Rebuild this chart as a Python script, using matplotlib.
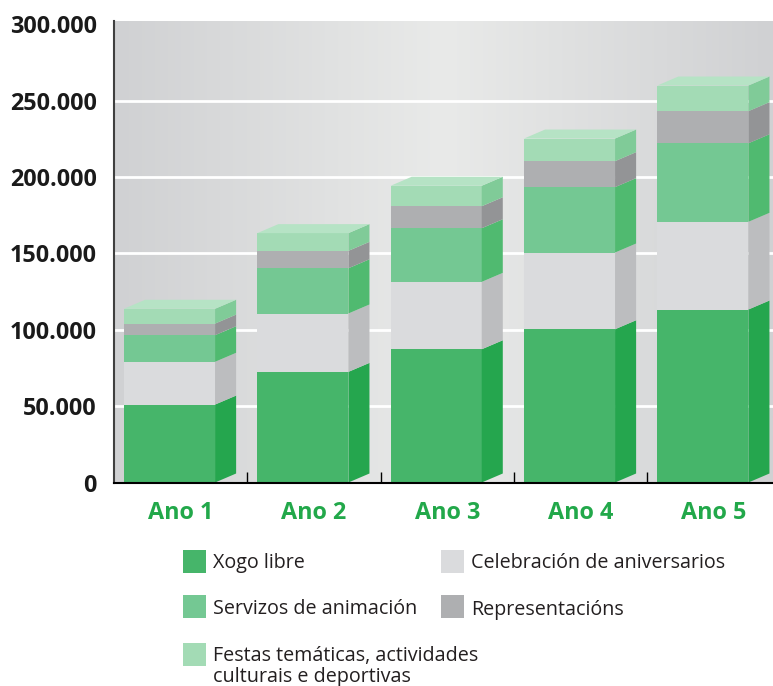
import numpy as np
import matplotlib
matplotlib.use('Agg')
import matplotlib.pyplot as plt
from matplotlib.patches import Polygon, Rectangle
from matplotlib.colors import LinearSegmentedColormap
from matplotlib.ticker import FuncFormatter

plt.rcParams['font.family'] = ['Open Sans', 'DejaVu Sans']

# Ingresos estimados por servizo e ano
years = ['Ano 1', 'Ano 2', 'Ano 3', 'Ano 4', 'Ano 5']
xogo_libre = [51000, 72400, 87200, 100300, 113200]
celebracion = [28000, 38200, 44100, 50200, 57400]
servizos = [17400, 29600, 35100, 42800, 51400]
representacions = [7600, 11400, 14400, 17000, 21000]
festas = [9700, 11600, 13400, 14800, 16800]

labels = ['Xogo libre', 'Celebración de aniversarios', 'Servizos de animación',
          'Representacións', 'Festas temáticas, actividades\nculturais e deportivas']
yticks = [0, 50000, 100000, 150000, 200000, 250000, 300000]

# (values, front colour, side colour) from bottom to top of the stack
stack = [
    (xogo_libre, '#46b56a', '#25a64e'),
    (celebracion, '#dadbdd', '#bcbdbf'),
    (servizos, '#74c893', '#50ba70'),
    (representacions, '#aeafb1', '#939496'),
    (festas, '#a3dbb5', '#80cb98'),
]
top_colour = '#b6e3c5'

W, H = 773, 686
fig = plt.figure(figsize=(W / 100, H / 100), dpi=100)
ax = fig.add_axes([114 / W, (H - 482.5) / H, 659 / W, (482.5 - 21) / H])

xmin, xmax = -0.5, -0.5 + 659 / 133.33
ymax = 300000 * (482.5 - 21) / (6 * 76.4)

# grey backdrop, lighter in the middle
grad = LinearSegmentedColormap.from_list('wall', ['#d0d1d3', '#e9eae9', '#d0d1d3'])
ax.imshow(np.linspace(0, 1, 256).reshape(1, -1), cmap=grad, aspect='auto',
          extent=[xmin, xmax, 0, ymax], zorder=-2)
for t in yticks[1:-1]:
    ax.axhline(t, color='white', lw=2, zorder=-1)

front_w = 0.683
offset = -0.425
dx = 0.158
dy = 9 / 76.4 * 50000

x = np.arange(len(years))
bottom = np.zeros(len(years))
for k, (vals, fc, sc) in enumerate(stack):
    vals = np.array(vals, dtype=float)
    ax.bar(x + offset, vals, front_w, bottom=bottom, align='edge', color=fc,
           linewidth=0, zorder=2)
    for i in range(len(years)):
        xr = x[i] + offset + front_w
        y0, y1 = bottom[i], bottom[i] + vals[i]
        ax.add_patch(Polygon([(xr, y0), (xr + dx, y0 + dy), (xr + dx, y1 + dy), (xr, y1)],
                             closed=True, facecolor=sc, edgecolor='none', zorder=2))
        if k == len(stack) - 1:
            xl = x[i] + offset
            ax.add_patch(Polygon([(xl, y1), (xl + dx, y1 + dy), (xr + dx, y1 + dy), (xr, y1)],
                                 closed=True, facecolor=top_colour, edgecolor='none', zorder=2))
    bottom += vals

ax.set_xlim(xmin, xmax)
ax.set_ylim(0, ymax)

ax.set_yticks(yticks)
ax.yaxis.set_major_formatter(FuncFormatter(lambda v, p: '{:,.0f}'.format(v).replace(',', '.')))
ax.tick_params(axis='y', length=0, pad=12.5, labelsize=16.8, labelcolor='#1a1a1a')
for t in ax.get_yticklabels():
    t.set_fontweight('bold')

ax.set_xticks(x)
ax.set_xticklabels(years, fontweight='bold')
ax.tick_params(axis='x', which='major', length=0, pad=13, labelsize=16.8, labelcolor='#22a84a')
ax.set_xticks(x[:-1] + 0.5, minor=True)
ax.tick_params(axis='x', which='minor', direction='in', length=8, width=1, color='black')

for side in ['top', 'right']:
    ax.spines[side].set_visible(False)
ax.spines['left'].set_color('#404040')
ax.spines['left'].set_linewidth(1.5)
ax.spines['bottom'].set_color('black')
ax.spines['bottom'].set_linewidth(1.5)

# legend drawn by hand: two columns, square aligned with first text line
legend_pos = [(183, 550, 568), (441, 550, 568), (183, 595, 614),
              (441, 595, 615), (183, 643, 661)]
legend_order = [0, 1, 2, 3, 4]
for idx, (lx, ly, base) in zip(legend_order, legend_pos):
    fig.patches.append(Rectangle((lx / W, 1 - (ly + 23) / H), 23 / W, 23 / H,
                                 transform=fig.transFigure, facecolor=stack[idx][1],
                                 edgecolor='none'))
    for j, line in enumerate(labels[idx].split('\n')):
        fig.text((lx + 30) / W, 1 - (base + 21 * j) / H, line, fontsize=14.2,
                 color='#231f20', va='baseline', ha='left')

fig.savefig('out.png', dpi=100)
